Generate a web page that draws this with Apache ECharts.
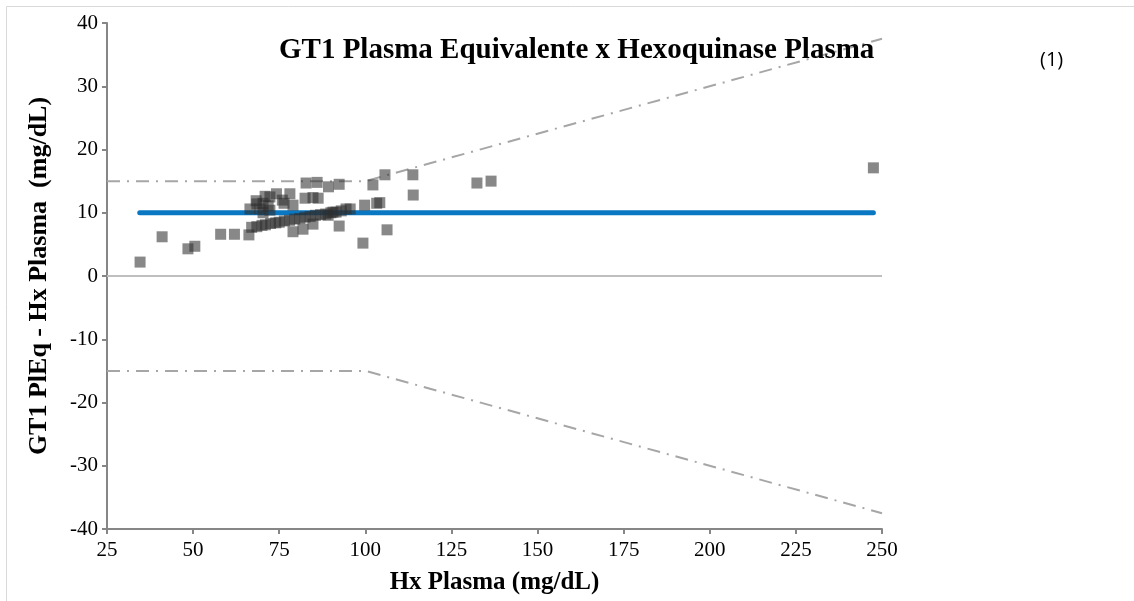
<!DOCTYPE html>
<html>
<head>
<meta charset="utf-8">
<script src="https://cdn.jsdelivr.net/npm/echarts@6/dist/echarts.min.js"></script>
<style>
  html, body { margin: 0; padding: 0; background: #fff; }
  #main { width: 1134px; height: 601px; }
</style>
</head>
<body>
<div id="main"></div>
<script>
// Hx Plasma (mg/dL) vs difference GT1 PlEq - Hx Plasma (mg/dL)
var hxValues = [
  34.6, 41, 48.5, 50.5, 58, 62, 66.2,
  66.5, 68.5, 70.9, 74.2, 78.1, 75.9, 72.3, 68.3, 70.3, 71.8, 76.4, 79, 69.4, 70.3, 72.3,
  82.5, 84.8, 86.3, 82.8, 86, 89.3, 92.4, 102.2, 99.8, 103.3, 104.2, 95.6, 94.4, 90.6, 89.2,
  105.7, 113.8, 113.9, 132.4, 136.5,
  67, 68.5, 70, 71, 72.5, 74, 75, 76.5, 78, 79.5, 81, 82.5, 84, 85.5, 87, 88.5, 90, 91.5, 93,
  81.9, 79, 84.8, 92.4, 99.3, 106.3, 247.5
];
var diffValues = [
  2.2, 6.2, 4.3, 4.7, 6.6, 6.6, 6.5,
  10.6, 11.4, 12.6, 13.0, 13.0, 12.0, 12.5, 11.9, 11.5, 11.1, 11.5, 11.2, 10.6, 10.0, 10.4,
  12.3, 12.4, 12.3, 14.7, 14.8, 14.1, 14.5, 14.4, 11.2, 11.5, 11.6, 10.6, 10.6, 10.1, 9.6,
  16.0, 16.0, 12.8, 14.7, 15.0,
  7.7, 7.8, 8.0, 8.1, 8.3, 8.4, 8.5, 8.7, 8.8, 9.0, 9.1, 9.3, 9.4, 9.6, 9.7, 9.8, 10.0, 10.1, 10.3,
  7.4, 7.0, 8.2, 7.9, 5.2, 7.3, 17.1
];
var biasLine = [[34.5, 10], [247.5, 10]];
var upperLimit = [[25, 15], [100, 15], [250, 37.5]];
var lowerLimit = [[25, -15], [100, -15], [250, -37.5]];
var zeroLine = [[25, 0], [250, 0]];

var points = hxValues.map(function (x, i) { return [x, diffValues[i]]; });

var myChart = echarts.init(document.getElementById('main'));
var serif = "'Liberation Serif', 'Times New Roman', serif";
var dashDot = [13, 7, 2, 7];

var option = {
  backgroundColor: '#fff',
  animation: false,
  title: {
    text: 'GT1 Plasma Equivalente x Hexoquinase Plasma',
    left: 274,
    top: 31,
    textStyle: { fontFamily: serif, fontWeight: 'bold', fontSize: 29, color: '#000' }
  },
  graphic: [
    {
      type: 'rect',
      shape: { x: 6.5, y: 6.5, width: 1140, height: 610 },
      style: { fill: 'none', stroke: '#d9d9d9', lineWidth: 1 },
      silent: true
    },
    {
      type: 'text',
      left: 1040,
      top: 50,
      style: { text: '(1)', fontFamily: "'Open Sans', sans-serif", fontSize: 20, fill: '#000' }
    }
  ],
  grid: { left: 107, right: 252, top: 23, bottom: 72 },
  xAxis: {
    type: 'value',
    min: 25,
    max: 250,
    interval: 25,
    name: 'Hx Plasma (mg/dL)',
    nameLocation: 'middle',
    nameGap: 41,
    nameTextStyle: { fontFamily: serif, fontWeight: 'bold', fontSize: 25, color: '#000' },
    axisLine: { onZero: false, lineStyle: { color: '#868686', width: 2 } },
    axisTick: { length: 5, lineStyle: { color: '#868686', width: 2 } },
    axisLabel: { fontFamily: serif, fontSize: 21, color: '#000', margin: 11 },
    splitLine: { show: false }
  },
  yAxis: {
    type: 'value',
    min: -40,
    max: 40,
    interval: 10,
    name: 'GT1 PlEq - Hx Plasma  (mg/dL)',
    nameLocation: 'middle',
    nameRotate: 90,
    nameGap: 55,
    nameTextStyle: { fontFamily: serif, fontWeight: 'bold', fontSize: 26, color: '#000' },
    axisLine: { show: true, onZero: false, lineStyle: { color: '#868686', width: 2 } },
    axisTick: { show: true, length: 5, lineStyle: { color: '#868686', width: 2 } },
    axisLabel: { fontFamily: serif, fontSize: 21, color: '#000', margin: 9 },
    splitLine: { show: false }
  },
  series: [
    {
      name: 'zero',
      type: 'line',
      data: zeroLine,
      symbol: 'none',
      silent: true,
      lineStyle: { color: '#bfbfbf', width: 2 },
      z: 1
    },
    {
      name: 'upper',
      type: 'line',
      data: upperLimit,
      symbol: 'none',
      silent: true,
      lineStyle: { color: '#a6a6a6', width: 2, type: dashDot },
      z: 2
    },
    {
      name: 'lower',
      type: 'line',
      data: lowerLimit,
      symbol: 'none',
      silent: true,
      lineStyle: { color: '#a6a6a6', width: 2, type: dashDot },
      z: 2
    },
    {
      name: 'bias',
      type: 'line',
      data: biasLine,
      symbol: 'none',
      silent: true,
      lineStyle: { color: '#0a77c2', width: 5, cap: 'round' },
      z: 3
    },
    {
      name: 'points',
      type: 'scatter',
      data: points,
      symbol: 'rect',
      symbolSize: 11,
      itemStyle: { color: 'rgba(46,46,46,0.71)' },
      z: 4
    }
  ]
};

myChart.setOption(option);
</script>
</body>
</html>
